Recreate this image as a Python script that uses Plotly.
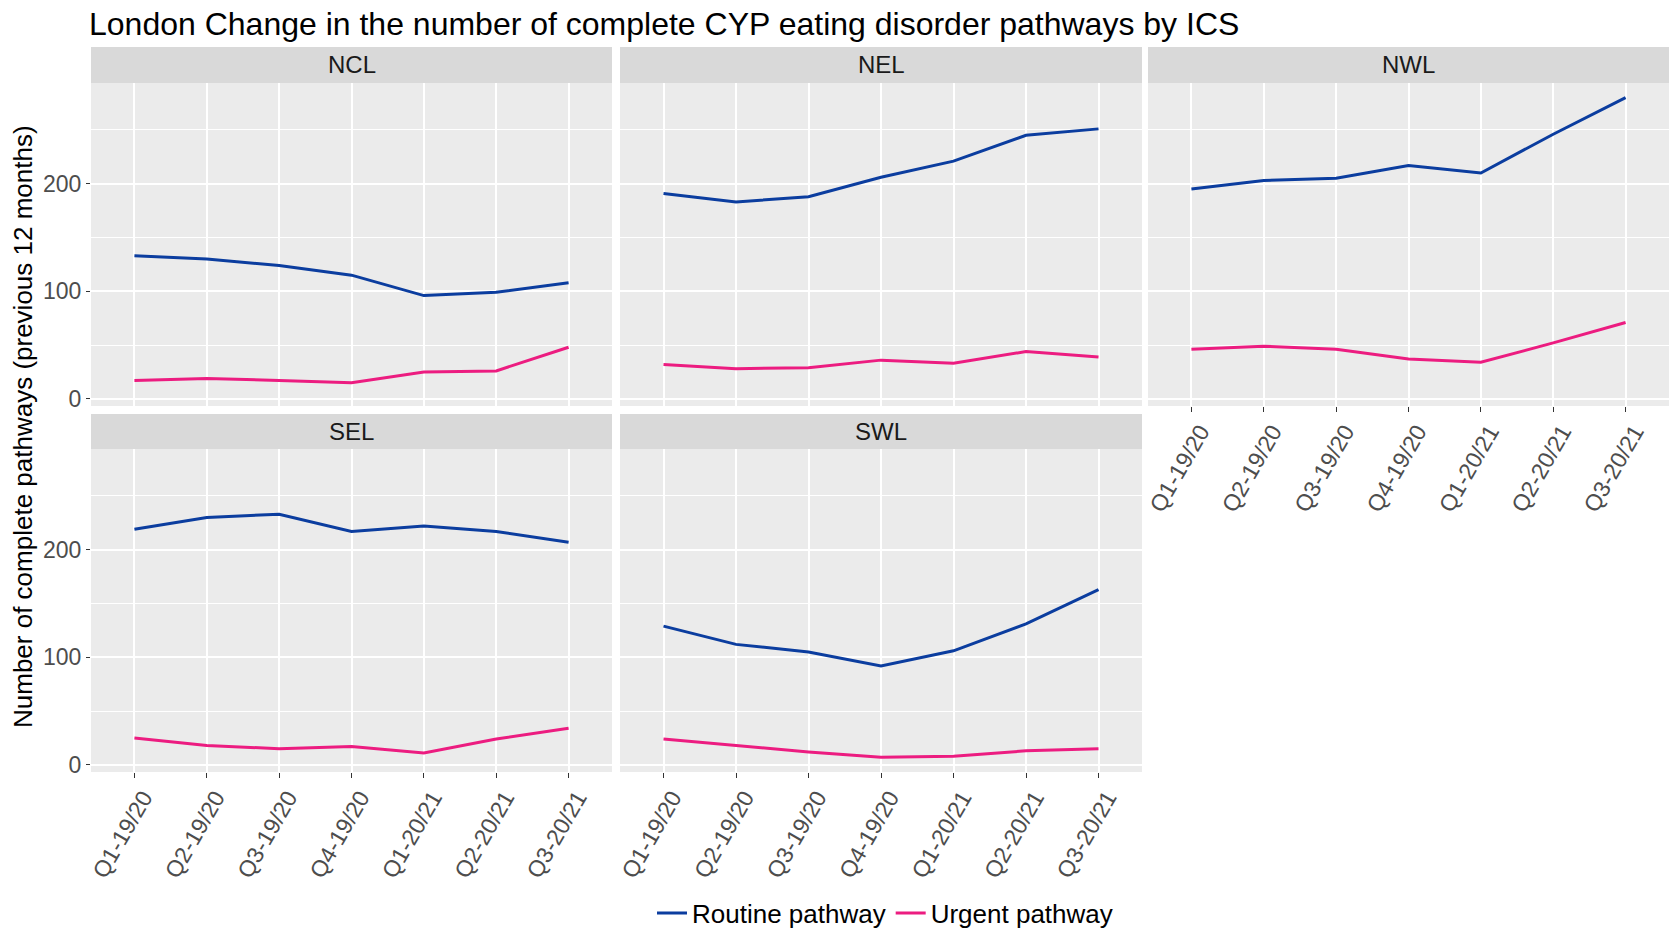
import numpy as np
import plotly.graph_objects as go

# Quarter labels (x categories)
quarters = ["Q1-19/20", "Q2-19/20", "Q3-19/20", "Q4-19/20", "Q1-20/21", "Q2-20/21", "Q3-20/21"]

# Integrated care systems, in facet order
ics_names = ["NCL", "NEL", "NWL", "SEL", "SWL"]

# Completed pathways in the previous 12 months, per ICS
ncl_routine = [133, 130, 124, 115, 96, 99, 108]
ncl_urgent = [17, 19, 17, 15, 25, 26, 48]
nel_routine = [191, 183, 188, 206, 221, 245, 251]
nel_urgent = [32, 28, 29, 36, 33, 44, 39]
nwl_routine = [195, 203, 205, 217, 210, 246, 280]
nwl_urgent = [46, 49, 46, 37, 34, 52, 71]
sel_routine = [219, 230, 233, 217, 222, 217, 207]
sel_urgent = [25, 18, 15, 17, 11, 24, 34]
swl_routine = [129, 112, 105, 92, 106, 131, 163]
swl_urgent = [24, 18, 12, 7, 8, 13, 15]

routine = [ncl_routine, nel_routine, nwl_routine, sel_routine, swl_routine]
urgent = [ncl_urgent, nel_urgent, nwl_urgent, sel_urgent, swl_urgent]

ROUTINE_COLOR = "#0B3D9F"
URGENT_COLOR = "#EC1C80"
W, H = 1673, 929
FONT = "Liberation Sans, Arial, sans-serif"

# Panel geometry in pixels: column x-extents, row plot y-extents and strip y-extents
cols_px = [(91, 612), (620, 1142), (1148, 1669)]
rows_px = [(83, 406), (449, 772)]
strips_px = [(47, 83), (414, 449)]
panel_pos = [(0, 0), (0, 1), (0, 2), (1, 0), (1, 1)]

# Shared y range with ggplot-style 5% expansion
all_vals = np.array(routine + urgent, dtype=float)
lo, hi = all_vals.min(), all_vals.max()
pad = 0.05 * (hi - lo)
y_range = [lo - pad, hi + pad]

fig = go.Figure()
layout = {}
shapes = []
annotations = []

for i, name in enumerate(ics_names):
    r, c = panel_pos[i]
    k = i + 1
    xa = "x" if k == 1 else f"x{k}"
    ya = "y" if k == 1 else f"y{k}"
    x0, x1 = cols_px[c]
    y0, y1 = rows_px[r]

    fig.add_trace(go.Scatter(
        x=quarters, y=routine[i], mode="lines", name="Routine pathway",
        line=dict(color=ROUTINE_COLOR, width=3), xaxis=xa, yaxis=ya,
        legendgroup="routine", showlegend=(i == 0)))
    fig.add_trace(go.Scatter(
        x=quarters, y=urgent[i], mode="lines", name="Urgent pathway",
        line=dict(color=URGENT_COLOR, width=3), xaxis=xa, yaxis=ya,
        legendgroup="urgent", showlegend=(i == 0)))

    # x axis labels only on the lowest panel of each column
    show_x = (r == 1) or (c == 2)
    show_y = (c == 0)

    layout["xaxis" if k == 1 else f"xaxis{k}"] = dict(
        domain=[x0 / W, x1 / W], anchor=ya, type="category",
        categoryorder="array", categoryarray=quarters,
        range=[-0.6, len(quarters) - 0.4], automargin=False,
        showgrid=True, gridcolor="white", gridwidth=2,
        zeroline=False, showline=False,
        ticks="outside" if show_x else "", ticklen=5, tickwidth=1, tickcolor="#333333",
        showticklabels=show_x, tickangle=-60,
        ticklabelshift=9, ticklabelstandoff=-3,
        tickfont=dict(family=FONT, size=23, color="#4D4D4D"),
        fixedrange=True)
    layout["yaxis" if k == 1 else f"yaxis{k}"] = dict(
        domain=[1 - y1 / H, 1 - y0 / H], anchor=xa,
        range=y_range, tick0=0, dtick=100, automargin=False,
        showgrid=True, gridcolor="white", gridwidth=2,
        minor=dict(dtick=50, tick0=0, showgrid=True, gridcolor="white", gridwidth=1),
        zeroline=False, showline=False,
        ticks="outside" if show_y else "", ticklen=4, tickwidth=1, tickcolor="#333333",
        showticklabels=show_y,
        tickfont=dict(family=FONT, size=23, color="#4D4D4D"),
        fixedrange=True)

    # facet strip
    s0, s1 = strips_px[r]
    shapes.append(dict(type="rect", xref="paper", yref="paper",
                       x0=x0 / W, x1=x1 / W, y0=1 - s1 / H, y1=1 - s0 / H,
                       fillcolor="#D9D9D9", line=dict(width=0), layer="below"))
    annotations.append(dict(text=name, xref="paper", yref="paper",
                            x=(x0 + x1) / 2 / W, y=1 - (s0 + s1) / 2 / H,
                            xanchor="center", yanchor="middle", showarrow=False,
                            font=dict(family=FONT, size=24, color="#1A1A1A")))

# shared y-axis title
annotations.append(dict(text="Number of complete pathways (previous 12 months)",
                        xref="paper", yref="paper", x=23 / W, y=1 - 427 / H,
                        xanchor="center", yanchor="middle", textangle=-90, showarrow=False,
                        font=dict(family=FONT, size=26, color="black")))

fig.update_layout(
    width=W, height=H,
    margin=dict(l=0, r=0, t=0, b=0, autoexpand=False),
    paper_bgcolor="white", plot_bgcolor="#EBEBEB",
    title=dict(text="London Change in the number of complete CYP eating disorder pathways by ICS",
               x=89 / W, xanchor="left", xref="paper",
               y=1 - 24 / H, yanchor="middle", yref="paper",
               font=dict(family=FONT, size=32, color="black")),
    legend=dict(orientation="h", x=885 / W, xanchor="center", y=1 - 913 / H, yanchor="middle",
                font=dict(family=FONT, size=26, color="black"),
                bgcolor="rgba(0,0,0,0)", itemwidth=30, tracegroupgap=0),
    shapes=shapes, annotations=annotations,
    **layout)

fig.write_html("out.html")
